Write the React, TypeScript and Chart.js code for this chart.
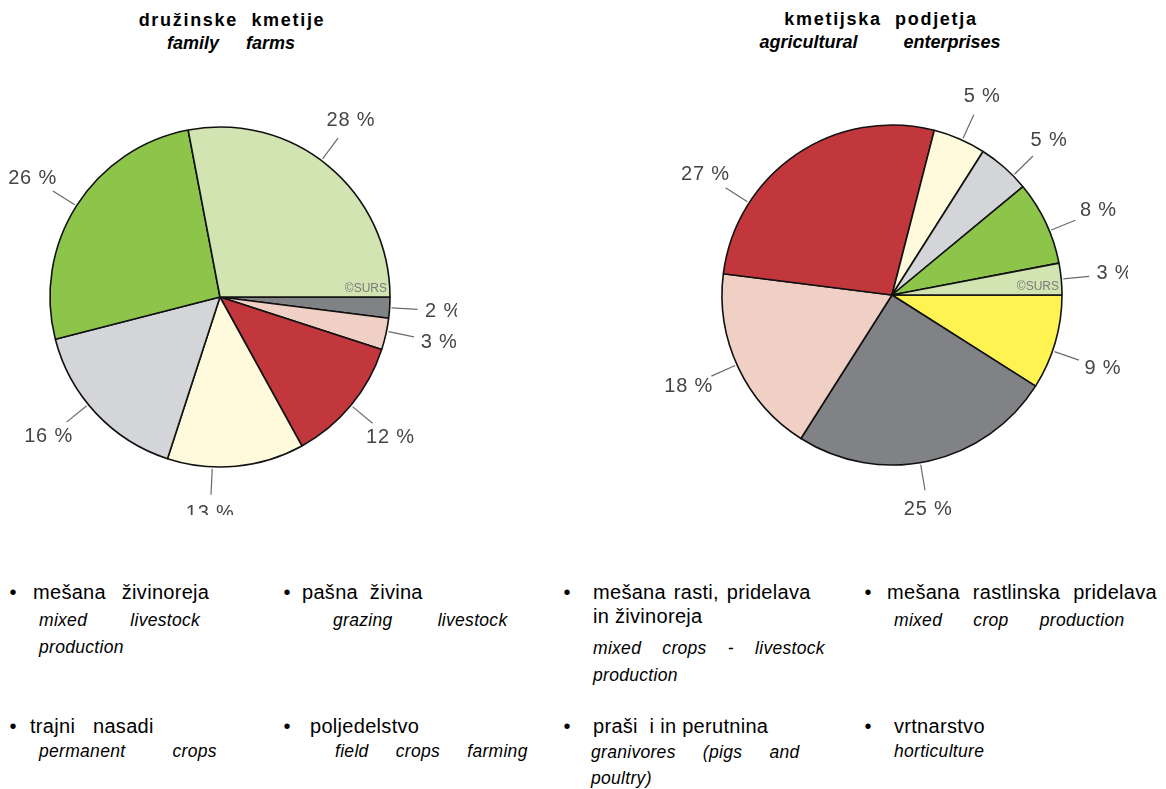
import React, { useEffect, useRef } from 'react';
import { Chart, registerables } from 'chart.js';

Chart.register(...registerables);

// ---- data (slices listed clockwise starting at 3 o'clock) ----
const familyCategories = [
  'prašiči in perutnina',
  'mešana rastlinska pridelava',
  'poljedelstvo',
  'trajni nasadi',
  'mešana rasti, pridelava in živinoreja',
  'mešana živinoreja',
  'pašna živina',
];
const familyValues = [2, 3, 12, 13, 16, 26, 28];

const enterpriseCategories = [
  'vrtnarstvo',
  'prašiči in perutnina',
  'mešana rastlinska pridelava',
  'poljedelstvo',
  'trajni nasadi',
  'mešana rasti, pridelava in živinoreja',
  'mešana živinoreja',
  'pašna živina',
];
const enterpriseValues = [9, 25, 18, 27, 5, 5, 8, 3];

const familyTitle = 'družinske  kmetije';
const familySubtitle = 'family farms';
const enterpriseTitle = 'kmetijska  podjetja';
const enterpriseSubtitle = 'agricultural enterprises';

// ---- styles ----
const categoryColors: Record<string, string> = {
  'pašna živina': '#d1e4b2',
  'mešana živinoreja': '#8dc54b',
  'mešana rasti, pridelava in živinoreja': '#d3d5d8',
  'trajni nasadi': '#fffadb',
  'poljedelstvo': '#c1373c',
  'mešana rastlinska pridelava': '#f0d0c4',
  'prašiči in perutnina': '#808285',
  'vrtnarstvo': '#fff352',
};

// label angle adjustments (degrees, counter-clockwise) to follow the original placement
const familyLabelShift = [0, 1, 0, -8, -4, 0, 3];
const enterpriseLabelShift = [-3, -3, -1, 23, -1, -4, -3, 0];

const FONT = '"Liberation Sans", Arial, Helvetica, sans-serif';

const pieLabels = {
  id: 'pieLabels',
  afterDatasetsDraw(chart: any, _args: any, opts: any) {
    const ctx = chart.ctx as CanvasRenderingContext2D;
    const meta = chart.getDatasetMeta(0);
    const values = chart.data.datasets[0].data as number[];
    const shifts: number[] = opts.shifts || [];
    ctx.save();
    let cx = 0, cy = 0, rr = 0;
    meta.data.forEach((arc: any, i: number) => {
      const p = arc.getProps(['x', 'y', 'startAngle', 'endAngle', 'outerRadius'], true);
      cx = p.x; cy = p.y; rr = p.outerRadius;
      const a = (p.startAngle + p.endAngle) / 2 - ((shifts[i] || 0) * Math.PI) / 180;
      const c = Math.cos(a), s = Math.sin(a);
      ctx.strokeStyle = '#6a6a6a';
      ctx.lineWidth = 1.2;
      ctx.beginPath();
      ctx.moveTo(p.x + c * (rr + 2), p.y + s * (rr + 2));
      ctx.lineTo(p.x + c * (rr + 28), p.y + s * (rr + 28));
      ctx.stroke();
      const d = rr + 47 + 7 * c * c;
      ctx.fillStyle = '#454545';
      ctx.font = `20px ${FONT}`;
      (ctx as any).letterSpacing = '0.8px';
      ctx.textAlign = 'center';
      ctx.textBaseline = 'middle';
      ctx.fillText(`${values[i]} %`, p.x + c * d, p.y + s * d);
    });
    (ctx as any).letterSpacing = '0px';
    ctx.font = `12px ${FONT}`;
    ctx.fillStyle = '#7a7a7a';
    ctx.textAlign = 'right';
    ctx.textBaseline = 'alphabetic';
    ctx.fillText('©SURS', cx + rr - 3, cy - 5);
    ctx.restore();
  },
};

function makeConfig(labels: string[], values: number[], shifts: number[], padding: any): any {
  return {
    type: 'pie',
    data: {
      labels,
      datasets: [
        {
          data: values,
          backgroundColor: labels.map((l) => categoryColors[l]),
          borderColor: '#111111',
          borderWidth: 1.6,
        },
      ],
    },
    options: {
      responsive: false,
      animation: false,
      devicePixelRatio: 1,
      rotation: 90,
      radius: 170,
      layout: { padding },
      plugins: {
        legend: { display: false },
        tooltip: { enabled: false },
        pieLabels: { shifts },
      },
    },
    plugins: [pieLabels],
  };
}

type LineProps = { x: number; base: number; text: string; italic?: boolean; ws?: number };
function Line({ x, base, text, italic, ws }: LineProps) {
  const fs = italic ? 17.5 : 20;
  return (
    <div
      style={{
        position: 'absolute',
        left: x,
        top: base - 0.8465 * fs,
        fontSize: fs,
        lineHeight: `${fs}px`,
        fontStyle: italic ? 'italic' : 'normal',
        letterSpacing: 0.3,
        wordSpacing: ws || 0,
        whiteSpace: 'pre',
        color: '#000',
      }}
    >
      {text}
    </div>
  );
}

function Bullet({ cx, base }: { cx: number; base: number }) {
  return <Line x={cx - 3.5} base={base} text={'•'} />;
}

export default function App() {
  const leftRef = useRef<HTMLCanvasElement>(null);
  const rightRef = useRef<HTMLCanvasElement>(null);

  useEffect(() => {
    const c1 = new Chart(
      leftRef.current as HTMLCanvasElement,
      makeConfig(familyCategories, familyValues, familyLabelShift, { left: 45, right: 62, top: 62, bottom: 43 })
    );
    const c2 = new Chart(
      rightRef.current as HTMLCanvasElement,
      makeConfig(enterpriseCategories, enterpriseValues, enterpriseLabelShift, { left: 97, right: 61, top: 60, bottom: 45 })
    );
    return () => {
      c1.destroy();
      c2.destroy();
    };
  }, []);

  const titleStyle = (cx: number, top: number, italic: boolean, ls: number, ws: number): React.CSSProperties => ({
    position: 'absolute',
    left: cx - 250,
    width: 500,
    top,
    textAlign: 'center',
    fontSize: 18,
    lineHeight: '20px',
    fontWeight: 'bold',
    fontStyle: italic ? 'italic' : 'normal',
    letterSpacing: ls,
    wordSpacing: ws,
    whiteSpace: 'pre',
  });

  return (
    <div
      style={{
        position: 'absolute',
        left: 0,
        top: 0,
        width: 1166,
        height: 789,
        overflow: 'hidden',
        background: '#ffffff',
        fontFamily: FONT,
        color: '#000',
      }}
    >
      <div style={titleStyle(232, 10, false, 1.7, 0)}>{familyTitle}</div>
      <div style={titleStyle(231, 33, true, 0, 22)}>{familySubtitle}</div>
      <div style={titleStyle(881, 9, false, 1.7, 0)}>{enterpriseTitle}</div>
      <div style={titleStyle(880, 32, true, 0, 41)}>{enterpriseSubtitle}</div>

      <canvas
        ref={leftRef}
        width={457}
        height={455}
        style={{ position: 'absolute', left: 0, top: 60, width: 457, height: 455 }}
      />
      <canvas
        ref={rightRef}
        width={508}
        height={455}
        style={{ position: 'absolute', left: 620, top: 60, width: 508, height: 455 }}
      />

      {/* legend row 1 */}
      <Bullet cx={13} base={599} />
      <Line x={33} base={599} text="mešana živinoreja" ws={10} />
      <Line x={39} base={627} text="mixed livestock" italic ws={38} />
      <Line x={39} base={654} text="production" italic />

      <Bullet cx={287} base={599} />
      <Line x={302} base={599} text="pašna živina" ws={6} />
      <Line x={333} base={627} text="grazing livestock" italic ws={40} />

      <Bullet cx={567} base={599} />
      <Line x={593} base={599} text="mešana rasti, pridelava" ws={2} />
      <Line x={593} base={623} text="in živinoreja" />
      <Line x={593} base={655} text="mixed crops - livestock" italic ws={16} />
      <Line x={593} base={682} text="production" italic />

      <Bullet cx={868} base={599} />
      <Line x={887} base={599} text="mešana rastlinska pridelava" ws={7} />
      <Line x={894} base={627} text="mixed crop production" italic ws={26} />

      {/* legend row 2 */}
      <Bullet cx={13} base={733} />
      <Line x={30} base={733} text="trajni nasadi" ws={12} />
      <Line x={39} base={758} text="permanent crops" italic ws={42} />

      <Bullet cx={287} base={733} />
      <Line x={310} base={733} text="poljedelstvo" />
      <Line x={335} base={758} text="field crops farming" italic ws={22} />

      <Bullet cx={567} base={733} />
      <Line x={593} base={733} text="praši  i in perutnina" />
      <Line x={591} base={759} text="granivores (pigs and" italic ws={22} />
      <Line x={591} base={785} text="poultry)" italic />

      <Bullet cx={868} base={733} />
      <Line x={894} base={733} text="vrtnarstvo" />
      <Line x={894} base={758} text="horticulture" italic />
    </div>
  );
}
